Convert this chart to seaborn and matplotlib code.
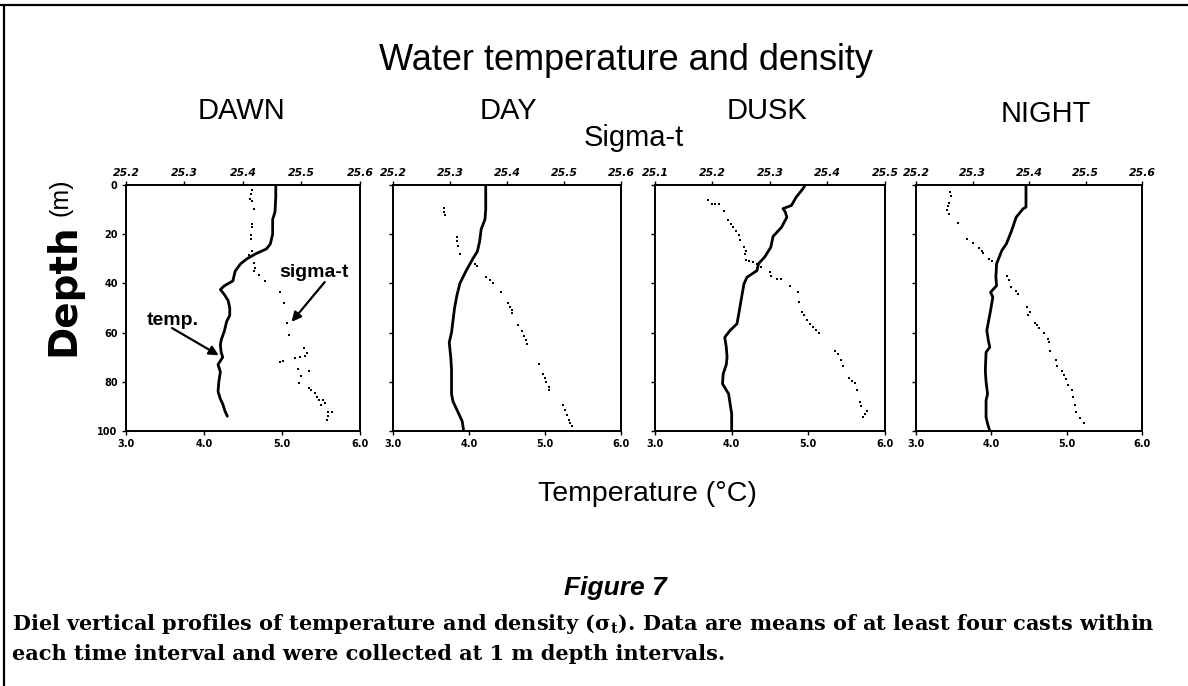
import numpy as np
import matplotlib
matplotlib.use("Agg")
import matplotlib.pyplot as plt
from matplotlib.lines import Line2D
import seaborn as sns

# ---- data (depth in m, temperature in degC, sigma-t) ----
panel_names = ["DAWN", "DAY", "DUSK", "NIGHT"]

dawn_temp_depth = np.array([0, 5, 11, 14, 20, 24, 26, 28, 30, 32, 35, 39, 41, 42.5, 44.5, 47, 50, 53,
                            55.5, 59.5, 63, 65, 68, 70, 72, 73, 76, 80, 84, 87, 89, 92, 94])
dawn_temp = np.array([4.92, 4.92, 4.91, 4.88, 4.88, 4.85, 4.80, 4.66, 4.55, 4.47, 4.40, 4.37, 4.26, 4.21,
                      4.26, 4.31, 4.33, 4.33, 4.29, 4.26, 4.22, 4.21, 4.22, 4.24, 4.20, 4.18, 4.21, 4.19,
                      4.18, 4.21, 4.24, 4.27, 4.30])
dawn_sig_depth = np.array([2.2, 3.5, 5.5, 6.7, 9.6, 15.7, 17, 20.4, 22, 27, 28.5, 31.8, 33.8, 35, 36.7, 38.9,
                           43.6, 48, 56, 60.9, 66.4, 68.2, 69.5, 70, 70.2, 71.7, 72, 74.9, 75.6, 77.6,
                           80.4, 82.4, 83.5, 84.7, 86, 87.4, 87.6, 89.4, 88.5, 92.2, 92.4, 94, 95.5])
dawn_sigma = np.array([25.416, 25.414, 25.412, 25.416, 25.418, 25.415, 25.415, 25.413, 25.413, 25.415,
                       25.411, 25.419, 25.420, 25.419, 25.428, 25.438, 25.463, 25.470, 25.476, 25.479,
                       25.504, 25.510, 25.506, 25.497, 25.489, 25.469, 25.463, 25.494, 25.513, 25.500,
                       25.496, 25.513, 25.517, 25.523, 25.526, 25.530, 25.537, 25.533, 25.540, 25.546,
                       25.552, 25.546, 25.544])

day_temp_depth = np.array([0, 5, 10, 14, 18, 23, 27, 30, 35, 40, 45, 50, 55, 60, 64, 70, 75, 80, 85, 88,
                           92, 96, 100])
day_temp = np.array([4.22, 4.22, 4.22, 4.21, 4.16, 4.14, 4.11, 4.05, 3.96, 3.88, 3.84, 3.81, 3.79, 3.77,
                     3.74, 3.76, 3.77, 3.77, 3.77, 3.79, 3.85, 3.91, 3.93])
day_sig_depth = np.array([9.2, 10.8, 12.1, 21.2, 22.8, 24.8, 28.1, 32.1, 33.1, 37.5, 38.8, 39.7, 43.5,
                          48.1, 49.5, 50.8, 52.1, 56.8, 59.5, 61.5, 63.1, 64.8, 72.8, 76.8, 78.5, 80.1,
                          82.1, 83.5, 89.5, 91.5, 93.5, 95.5, 96.8, 98.1])
day_sigma = np.array([25.289, 25.290, 25.291, 25.312, 25.312, 25.314, 25.318, 25.343, 25.347, 25.364,
                      25.370, 25.375, 25.389, 25.402, 25.405, 25.408, 25.409, 25.420, 25.426, 25.430,
                      25.433, 25.435, 25.457, 25.463, 25.466, 25.468, 25.473, 25.474, 25.499, 25.502,
                      25.505, 25.508, 25.511, 25.514])

dusk_temp_depth = np.array([0, 1.5, 5, 8.3, 9.6, 11, 13.1, 17.2, 20.9, 25.3, 29.3, 32, 34.8, 37.5, 40.2,
                            45.6, 51, 56.4, 59.1, 61.9, 66, 70, 73, 76.7, 80.8, 84.9, 89, 93, 100])
dusk_temp = np.array([4.96, 4.93, 4.84, 4.78, 4.67, 4.70, 4.72, 4.65, 4.54, 4.51, 4.43, 4.35, 4.33, 4.20,
                      4.16, 4.13, 4.10, 4.07, 3.98, 3.91, 3.93, 3.94, 3.93, 3.89, 3.88, 3.96, 3.98, 4.00,
                      4.00])
dusk_sig_depth = np.array([6.0, 7.7, 7.7, 7.9, 10.4, 14.1, 15.8, 16.9, 18.5, 20.5, 22.3, 25.2, 27, 28,
                           30.4, 30.7, 31.4, 32, 33.4, 35.4, 36.8, 38.1, 38.2, 40.9, 43.6, 47.6, 51.7, 53,
                           54.8, 56.4, 57.8, 59.1, 60.1, 67.3, 68.9, 71.1, 73.4, 78.4, 79.5, 80.6, 83.5,
                           88.3, 90, 91.7, 93, 94.4])
dusk_sigma = np.array([25.192, 25.199, 25.204, 25.212, 25.220, 25.227, 25.232, 25.235, 25.241, 25.246,
                       25.248, 25.254, 25.258, 25.257, 25.259, 25.264, 25.271, 25.277, 25.284, 25.300,
                       25.301, 25.313, 25.320, 25.335, 25.348, 25.350, 25.355, 25.359, 25.365, 25.370,
                       25.374, 25.380, 25.386, 25.413, 25.419, 25.423, 25.427, 25.438, 25.442, 25.447,
                       25.452, 25.457, 25.458, 25.468, 25.465, 25.462])

night_temp_depth = np.array([0, 5, 9, 9.7, 13.1, 18.5, 23.9, 26.6, 32, 37.5, 40.9, 43.6, 45.6, 51, 59.1,
                             63.2, 65.9, 68, 75.4, 80, 84.9, 87.6, 94.4, 97, 100])
night_temp = np.array([4.46, 4.46, 4.46, 4.42, 4.33, 4.27, 4.20, 4.14, 4.07, 4.06, 4.07, 3.99, 4.02,
                       3.99, 3.94, 3.96, 3.98, 3.93, 3.92, 3.93, 3.95, 3.93, 3.93, 3.95, 3.98])
night_sig_depth = np.array([2.9, 4.3, 7.4, 8.7, 10, 11.7, 15.4, 21.9, 23.7, 25.7, 26.9, 27.7, 30, 31,
                            36.8, 38.5, 41.3, 42.9, 44.5, 49.4, 51.7, 53, 56.2, 57.1, 58, 60.2, 62.5,
                            63.9, 67.3, 71.1, 73.4, 75.7, 77.4, 78.8, 81.1, 83.5, 86.3, 89.6, 92.4, 94.6,
                            96.8])
night_sigma = np.array([25.261, 25.262, 25.259, 25.257, 25.254, 25.258, 25.275, 25.291, 25.300, 25.312,
                        25.316, 25.319, 25.330, 25.334, 25.361, 25.365, 25.369, 25.377, 25.381, 25.396,
                        25.401, 25.399, 25.411, 25.414, 25.418, 25.427, 25.433, 25.435, 25.437, 25.447,
                        25.449, 25.458, 25.462, 25.465, 25.469, 25.476, 25.477, 25.481, 25.483, 25.490,
                        25.498])

temp_depths = [dawn_temp_depth, day_temp_depth, dusk_temp_depth, night_temp_depth]
temps = [dawn_temp, day_temp, dusk_temp, night_temp]
sig_depths = [dawn_sig_depth, day_sig_depth, dusk_sig_depth, night_sig_depth]
sigmas = [dawn_sigma, day_sigma, dusk_sigma, night_sigma]
sigma_ranges = [(25.2, 25.6), (25.2, 25.6), (25.1, 25.5), (25.2, 25.6)]
temp_ticks = [3.0, 4.0, 5.0, 6.0]
depth_ticks = [0, 20, 40, 60, 80, 100]

# ---- layout (pixels of a 1188x686 canvas) ----
W, H = 1188, 686
panel_left = [126, 393, 655, 916]
panel_width = [234, 228, 230, 226]
top_px, bot_px = 185, 431
label_pos = [(242, 111), (508, 111), (767, 111), (1046, 114)]

sns.set_style("ticks")
plt.rcParams["font.family"] = ["Liberation Sans", "DejaVu Sans"]
plt.rcParams["axes.linewidth"] = 1.3
for key in ["text.color", "axes.labelcolor", "xtick.color", "ytick.color", "axes.edgecolor"]:
    plt.rcParams[key] = "black"

fig = plt.figure(figsize=(W / 100, H / 100), dpi=100)


def fx(px):
    return px / W


def fy(py):
    return 1 - py / H


tick_font = dict(family="DejaVu Sans", weight="bold", size=7)
top_font = dict(family="DejaVu Sans", weight="bold", style="italic", size=7.8)

for i in range(4):
    ax = fig.add_axes([fx(panel_left[i]), fy(bot_px), panel_width[i] / W, (bot_px - top_px) / H])
    sns.lineplot(x=temps[i], y=temp_depths[i], sort=False, estimator=None, ax=ax,
                 color="black", linewidth=2.0)
    ax.set_xlim(3, 6)
    ax.set_xticks(temp_ticks)
    ax.set_xticklabels([f"{t:.1f}" for t in temp_ticks], fontdict=tick_font)
    ax.set_yticks(depth_ticks)
    if i == 0:
        ax.set_yticklabels([str(d) for d in depth_ticks], fontdict=tick_font)
    else:
        ax.set_yticklabels([])
    ax.tick_params(direction="out", length=3, width=1, pad=3)
    ax.set_xlabel("")
    ax.set_ylabel("")

    ax2 = ax.twiny()
    sns.scatterplot(x=sigmas[i], y=sig_depths[i], ax=ax2, color="black", s=4,
                    marker="s", linewidth=0)
    lo, hi = sigma_ranges[i]
    sticks = np.round(np.arange(lo, hi + 0.001, 0.1), 1)
    ax2.set_xlim(lo, hi)
    ax2.set_xticks(sticks)
    ax2.set_xticklabels([f"{s:.1f}" for s in sticks], fontdict=top_font)
    ax2.tick_params(direction="out", length=3, width=1, pad=2)
    ax2.set_xlabel("")
    ax2.set_ylabel("")
    ax.set_ylim(100, 0)

    fig.text(fx(label_pos[i][0]), fy(label_pos[i][1]), panel_names[i], ha="center",
             va="center", fontsize=21)

    if i == 0:
        ax.text(3.60, 54.9, "temp.", ha="center", va="center", fontsize=14, fontweight="bold")
        ax.annotate("", xy=(4.22, 69.8), xytext=(3.56, 57.6),
                    arrowprops=dict(arrowstyle="-|>", color="black", lw=1.6, mutation_scale=14))
        ax.text(5.41, 35.4, "sigma-t", ha="center", va="center", fontsize=14, fontweight="bold")
        ax.annotate("", xy=(5.10, 56.5), xytext=(5.57, 38.6),
                    arrowprops=dict(arrowstyle="-|>", color="black", lw=1.6, mutation_scale=14))

# titles and axis labels
fig.text(fx(626), fy(61), "Water temperature and density", ha="center", va="center", fontsize=26)
fig.text(fx(634), fy(138), "Sigma-t", ha="center", va="center", fontsize=21)
fig.text(fx(647), fy(494), "Temperature (°C)", ha="center", va="center", fontsize=20.5)
fig.text(fx(63), fy(290), "Depth", rotation=90, ha="center", va="center", fontsize=28,
         fontweight="bold", family="DejaVu Sans")
fig.text(fx(60), fy(197), "(m)", rotation=90, ha="center", va="center", fontsize=18)

# caption
fig.text(fx(615), fy(588), "Figure 7", ha="center", va="center", fontsize=19,
         fontweight="bold", style="italic")
cap_font = dict(fontsize=15.0, family="DejaVu Serif", fontweight="bold")
fig.text(fx(12), fy(630), r"Diel vertical profiles of temperature and density ($\mathregular{\sigma_t}$). "
         "Data are means of at least four casts within", ha="left", va="baseline", **cap_font)
fig.text(fx(12), fy(660), "each time interval and were collected at 1 m depth intervals.",
         ha="left", va="baseline", **cap_font)

# page frame
fig.add_artist(Line2D([0, 1], [fy(5), fy(5)], transform=fig.transFigure, color="black", lw=1.6))
fig.add_artist(Line2D([fx(4), fx(4)], [fy(5), 0], transform=fig.transFigure, color="black", lw=1.6))

fig.savefig("out.png", dpi=100)
